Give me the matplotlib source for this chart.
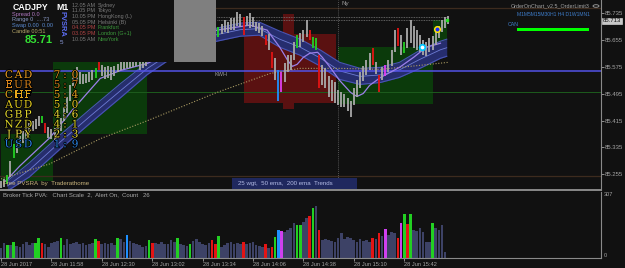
#%%
import numpy as np
import matplotlib
matplotlib.use('Agg')
import matplotlib.pyplot as plt
import matplotlib.patheffects as pe
from matplotlib.patches import Rectangle, Circle

plt.rcParams['font.family'] = ['Liberation Sans', 'DejaVu Sans']

#%% Dados - CADJPY M1, 28 Jun 2017 (x = minutos desde 11:26)
# candles a cada 2 min, antes do painel de informação
min_a = np.arange(0, 94, 2)
hi_a = [85.235, 85.241, 85.253, 85.295, 85.346, 85.355, 85.370, 85.385, 85.397, 85.409,
        85.415, 85.421, 85.430, 85.430, 85.409, 85.397, 85.391, 85.394, 85.403, 85.424,
        85.457, 85.487, 85.520, 85.565, 85.574, 85.559, 85.553, 85.553, 85.559, 85.565,
        85.571, 85.589, 85.580, 85.574, 85.577, 85.574, 85.577, 85.583, 85.589, 85.589,
        85.589, 85.595, 85.595, 85.595, 85.589, 85.595, 85.601]
lo_a = [85.214, 85.217, 85.226, 85.247, 85.304, 85.319, 85.334, 85.349, 85.361, 85.373,
        85.385, 85.391, 85.400, 85.409, 85.379, 85.364, 85.361, 85.358, 85.367, 85.385,
        85.415, 85.439, 85.475, 85.517, 85.532, 85.523, 85.523, 85.526, 85.529, 85.535,
        85.541, 85.565, 85.547, 85.538, 85.541, 85.535, 85.547, 85.559, 85.565, 85.568,
        85.571, 85.571, 85.574, 85.577, 85.565, 85.571, 85.577]

# candles depois do painel
min_b = np.arange(138, 286, 2)
hi_b = [85.694, 85.703, 85.715, 85.709, 85.721, 85.721, 85.739, 85.733, 85.724, 85.727,
        85.736, 85.724, 85.709, 85.706, 85.697, 85.670, 85.673, 85.619, 85.601, 85.565,
        85.559, 85.586, 85.610, 85.610, 85.649, 85.670, 85.676, 85.685, 85.715, 85.685,
        85.664, 85.661, 85.610, 85.580, 85.571, 85.547, 85.535, 85.529, 85.505, 85.499,
        85.493, 85.484, 85.475, 85.511, 85.535, 85.559, 85.577, 85.595, 85.616, 85.631,
        85.589, 85.550, 85.574, 85.580, 85.595, 85.625, 85.685, 85.691, 85.670, 85.649,
        85.691, 85.715, 85.697, 85.685, 85.670, 85.655, 85.649, 85.661, 85.667, 85.685,
        85.697, 85.715, 85.724, 85.727]
lo_b = [85.664, 85.673, 85.679, 85.676, 85.685, 85.685, 85.697, 85.694, 85.670, 85.697,
        85.691, 85.694, 85.682, 85.676, 85.667, 85.640, 85.625, 85.571, 85.535, 85.475,
        85.499, 85.529, 85.559, 85.565, 85.595, 85.631, 85.634, 85.649, 85.664, 85.655,
        85.631, 85.625, 85.511, 85.520, 85.511, 85.487, 85.475, 85.469, 85.463, 85.457,
        85.457, 85.445, 85.427, 85.463, 85.487, 85.511, 85.532, 85.550, 85.565, 85.580,
        85.553, 85.499, 85.535, 85.547, 85.559, 85.577, 85.619, 85.637, 85.610, 85.616,
        85.631, 85.646, 85.631, 85.625, 85.619, 85.610, 85.607, 85.619, 85.625, 85.640,
        85.661, 85.679, 85.691, 85.703]

# candles PVSRA coloridos (minuto: tipo)
pvsra_a = {4: 'g', 8: 'g', 26: 'g', 28: 'r', 60: 'g', 62: 'r'}
pvsra_b = {138: 'g', 154: 'r', 168: 'r', 172: 'r', 176: 'b', 178: 'm', 188: 'g', 196: 'r',
           198: 'g', 200: 'g', 202: 'r', 236: 'r', 240: 'r', 244: 'm', 252: 'r', 256: 'g'}

# canal das médias (25 wgt / 50 ema)
band_min = [4, 18, 37, 57, 76, 93, 110, 126, 137, 152, 164, 177, 190, 203, 215, 228, 241, 253, 266, 279, 283]
band_top = [85.235, 85.289, 85.370, 85.451, 85.526, 85.589, 85.640, 85.673, 85.691, 85.706, 85.709,
            85.682, 85.658, 85.625, 85.589, 85.571, 85.574, 85.589, 85.625, 85.652, 85.658]
band_bot = [85.205, 85.247, 85.328, 85.409, 85.484, 85.553, 85.607, 85.640, 85.652, 85.667, 85.670,
            85.634, 85.610, 85.577, 85.538, 85.523, 85.529, 85.544, 85.571, 85.601, 85.607]

# média rápida (roxa)
ema_min = [3, 12, 31, 45, 63, 76, 93, 110, 126, 137, 158, 169, 177, 182, 185, 188, 192, 196, 201, 204,
           209, 215, 222, 226, 230, 234, 241, 247, 253, 262, 270, 279]
ema_val = [85.235, 85.280, 85.364, 85.445, 85.541, 85.565, 85.586, 85.625, 85.667, 85.685, 85.700,
           85.685, 85.634, 85.595, 85.577, 85.583, 85.604, 85.616, 85.619, 85.604, 85.574, 85.535,
           85.499, 85.487, 85.496, 85.520, 85.544, 85.559, 85.574, 85.604, 85.634, 85.646]

# 200 ema (pontilhada)
slow_min = [0, 31, 63, 93, 137, 171, 190, 215, 241, 266, 284]
slow_val = [85.241, 85.286, 85.361, 85.415, 85.499, 85.556, 85.571, 85.571, 85.568, 85.580, 85.589]

# volume por tick
vol_min = np.arange(0, 284, 2)
vol = [47, 74, 63, 63, 79, 58, 53, 68, 79, 63, 74, 75, 95, 75, 70, 53, 72, 79, 84, 95,
       63, 90, 70, 75, 79, 70, 72, 63, 70, 72, 90, 84, 70, 72, 66, 72, 63, 95, 90, 79,
       111, 84, 72, 66, 63, 53, 58, 87, 75, 72, 70, 79, 70, 66, 87, 79, 95, 70, 63, 58,
       70, 84, 90, 79, 70, 63, 72, 87, 70, 107, 53, 63, 72, 79, 70, 75, 66, 79, 70, 72,
       79, 63, 58, 53, 70, 47, 53, 103, 136, 131, 127, 136, 144, 168, 160, 160, 176, 192, 204, 241,
       252, 136, 87, 90, 87, 84, 79, 95, 120, 90, 102, 95, 87, 79, 90, 84, 87, 79, 99, 90,
       120, 107, 140, 111, 127, 120, 95, 168, 213, 163, 213, 136, 133, 144, 127, 79, 79, 168, 144, 136,
       160, 29]
vol_kind = {4: 'g', 8: 'g', 22: 'g', 24: 'g', 26: 'r', 38: 'g', 60: 'g', 62: 'r', 74: 'g', 80: 'b',
            94: 'g', 96: 'r', 112: 'g', 120: 'g', 134: 'r', 136: 'r', 138: 'g', 154: 'r', 168: 'r',
            172: 'r', 174: 'g', 176: 'b', 178: 'm', 188: 'g', 190: 'g', 196: 'r', 198: 'g', 202: 'r',
            236: 'r', 240: 'r', 244: 'm', 252: 'r', 254: 'm', 256: 'g', 258: 'r', 260: 'g', 274: 'g'}

price_ticks = [85.255, 85.335, 85.415, 85.495, 85.575, 85.655, 85.735]
last_price = 85.713
time_ticks = [0, 32, 64, 96, 128, 160, 192, 224, 256]
time_labels = ['28 Jun 2017', '28 Jun 11:58', '28 Jun 12:30', '28 Jun 13:02', '28 Jun 13:34',
               '28 Jun 14:06', '28 Jun 14:38', '28 Jun 15:10', '28 Jun 15:42']

# zonas (min_ini, min_fim, preço_baixo, preço_alto)
red_zones = [(154, 213, 85.469, 85.673), (179, 186, 85.451, 85.733)]
green_zones = [(33, 93, 85.376, 85.589), (0, 33, 85.235, 85.376),
               (214, 274, 85.466, 85.634), (274, 283, 85.640, 85.715)]
kwh_level = 85.563
green_level = 85.499
day_high = 85.751
day_low = 85.250
order_levels = [85.724, 85.715]

strength = [('CAD', '7:0'), ('EUR', '5:7'), ('CHF', '5:4'), ('AUD', '5:0'),
            ('GBP', '4:6'), ('NZD', '4:1'), ('JPY', '2:3'), ('USD', '1:9')]
strength_col = ['#f0a020', '#d8841c', '#e8a81c', '#e8d020', '#e8dc30', '#dcd428', '#f0e040', '#2a86e6']

sessions = [('12.05 AM', 'Sydney'), ('11.05 PM', 'Tokyo'), ('10.05 PM', 'HongKong (L)'),
            ('05.05 PM', 'Helsinki (B)'), ('04.05 PM', 'Frankfurt'), ('03.05 PM', 'London (G+1)'),
            ('10.05 AM', 'NewYork')]

#%% Figura
W, H = 625, 268
BG = '#111111'
AXC = '#8a8a8a'
TXT = '#a4a4a4'
KIND = {'n': '#a9a9a9', 'g': '#22d022', 'r': '#e41414', 'b': '#1e90ff', 'm': '#e040f0'}
VKIND = {'n': '#3d4266', 'g': '#22d022', 'r': '#e41414', 'b': '#1e90ff', 'm': '#d040f0'}

fig = plt.figure(figsize=(6.25, 2.68), dpi=100, facecolor=BG)
ax = fig.add_axes([0, 1 - 190 / H, 601 / W, 190 / H], facecolor=BG)
sub = fig.add_axes([0, 1 - 258 / H, 601 / W, 66 / H], facecolor=BG)

xlim = (-0.64, 380.95)


def ptext(x, y, s, **kw):
    kw.setdefault('va', 'center')
    kw.setdefault('ha', 'left')
    kw.setdefault('zorder', 6)
    return fig.text(x / W, 1 - y / H, s, **kw)


def prect(x, y, w, h, **kw):
    kw.setdefault('zorder', 5)
    fig.add_artist(Rectangle((x / W, 1 - (y + h) / H), w / W, h / H,
                             transform=fig.transFigure, linewidth=0, **kw))


#%% painel principal
for x0, x1, y0, y1 in green_zones:
    ax.add_patch(Rectangle((x0, y0), x1 - x0, y1 - y0, color='#0b3a0b', lw=0, zorder=0.5))
for x0, x1, y0, y1 in red_zones:
    ax.add_patch(Rectangle((x0, y0), x1 - x0, y1 - y0, color='#5a1111', lw=0, zorder=0.5))

ax.axhline(day_high, color='#3d2b1e', lw=0.9, zorder=0.8)
ax.axhline(day_low, color='#3d2b1e', lw=0.9, zorder=0.8)
ax.axhline(green_level, color='#1d5c1d', lw=0.7, zorder=0.8)
ax.axvline(214, color='#6a6a6a', lw=0.6, ls=(0, (1, 1.5)), zorder=0.8)
ax.hlines(order_levels, 137, 284, colors='#7a7a7a', lw=0.6, linestyles=(0, (1, 1)), zorder=0.8)

ax.fill_between(band_min, band_bot, band_top, color='#262d6e', lw=0, zorder=1)
ax.plot(band_min, band_top, color='#4854b4', lw=0.8, zorder=1.1)
ax.plot(band_min, band_bot, color='#4854b4', lw=0.8, zorder=1.1)
ax.plot(band_min, (np.array(band_top) + np.array(band_bot)) / 2, color='#6e7cd4', lw=0.6, zorder=1.1)

ax.axhline(kwh_level, color='#5252e6', lw=1.1, zorder=1.2)
ax.plot(slow_min, slow_val, color='#a89a62', lw=0.8, ls=(0, (1, 1.5)), zorder=1.3)
ax.plot(ema_min, ema_val, color='#9c80ea', lw=0.9, zorder=1.4)

for mins, hi, lo, kinds in [(min_a, hi_a, lo_a, pvsra_a), (min_b, hi_b, lo_b, pvsra_b)]:
    cols = [KIND[kinds.get(int(m), 'n')] for m in mins]
    ax.vlines(mins, lo, hi, colors=cols, lw=1.3, zorder=2)

ax.plot(267, 85.634, 'o', ms=4, mfc='white', mec='#00c8ff', mew=1.3, zorder=3)
ax.plot(277, 85.688, 'o', ms=4, mfc='#1a2cff', mec='#ffe600', mew=1.1, zorder=3)
ax.plot(283, 85.715, 's', ms=1.5, color='#22e022', zorder=3)

ax.set_xlim(*xlim)
ax.set_ylim(85.208, 85.775)
ax.set_xticks([])
ax.yaxis.tick_right()
ax.set_yticks(price_ticks)
ax.set_yticklabels([f'{v:.3f}' for v in price_ticks])
ax.tick_params(axis='y', colors=TXT, labelsize=4.3, length=2, width=0.6, pad=1)
for s in ['left', 'top']:
    ax.spines[s].set_visible(False)
ax.spines['right'].set_color(AXC)
ax.spines['bottom'].set_color(AXC)
ax.spines['bottom'].set_linewidth(1.4)
ax.text(1.003, last_price, f'{last_price:.3f}', transform=ax.get_yaxis_transform(),
        fontsize=4.3, color='#111111', va='center', ha='left', clip_on=False,
        bbox=dict(boxstyle='square,pad=0.12', fc='#c8c8c8', ec='#e8e8e8', lw=0.4))

#%% sub janela de volume
vcols = [VKIND[vol_kind.get(int(m), 'n')] for m in vol_min]
sub.bar(vol_min, vol, width=1.7, color=vcols, linewidth=0)
sub.set_xlim(*xlim)
sub.set_ylim(0, 320)
sub.set_yticks([])
sub.set_xticks(time_ticks)
sub.set_xticklabels(time_labels)
for lab in sub.get_xticklabels():
    lab.set_ha('left')
sub.tick_params(axis='x', colors=TXT, labelsize=4.1, length=2, width=0.6, pad=1)
for s in ['left', 'top']:
    sub.spines[s].set_visible(False)
sub.spines['right'].set_color(AXC)
sub.spines['bottom'].set_color(AXC)
sub.text(1.005, 307, '307', transform=sub.get_yaxis_transform(), fontsize=4.1, color=TXT,
         va='center', ha='left')
sub.text(1.005, 0, '0', transform=sub.get_yaxis_transform(), fontsize=4.1, color=TXT,
         va='bottom', ha='left')

#%% painel de informação (canto superior esquerdo)
prect(0, 0, 174, 62, fc=BG)
prect(0, 61.5, 174, 0.8, fc='#3c3c3c')
prect(174, 0, 42, 62, fc='#7f7f7f')

ptext(13, 7, 'CADJPY', color='white', fontsize=6.3, weight='bold')
ptext(56, 7, 'M1', color='white', fontsize=6.3, weight='bold')
ptext(12, 14.5, 'Spread 0.0', color='#b37ac4', fontsize=4.1)
ptext(12, 20, 'Range 0  ....73', color='#8a9ac4', fontsize=4.1)
ptext(12, 25.5, 'Swap 0.00  0.00', color='#5a8ad0', fontsize=4.1)
ptext(12, 31, 'Candle 00:51', color='#b8a86a', fontsize=4.1)
ptext(25, 40, '85.71', color='#33e033', fontsize=8, weight='bold')
ptext(62, 24, 'PVSRA', color='#5b6cf0', fontsize=5.4, weight='bold', rotation=270, ha='center')
ptext(61, 43, '5', color='#8fa0e0', fontsize=4.5, ha='center')

for i, (t, name) in enumerate(sessions):
    y = 5.3 + 5.67 * i
    tcol = '#b04444' if i in (4, 5) else '#7a7a7a'
    ncol = '#3c9c3c' if i >= 4 else '#7a7a7a'
    ptext(72, y, t, color=tcol, fontsize=3.9)
    ptext(97.5, y, name, color=ncol, fontsize=3.9)

# força das moedas
stroke = [pe.withStroke(linewidth=1.2, foreground='#000000')]
for i, ((cur, score), col) in enumerate(zip(strength, strength_col)):
    y = 75 + 9.9 * i
    for ch, x in zip(cur, [9, 18.5, 28]):
        ptext(x, y, ch, color=col, fontsize=7.6, family='DejaVu Serif', ha='center',
              path_effects=stroke)
    for ch, x in zip(score, [57, 65, 75]):
        ptext(x, y, ch, color=col, fontsize=7.6, family='DejaVu Serif', ha='center',
              path_effects=stroke)

#%% outros textos
ptext(215, 74, 'KWH', color='#9a9a9a', fontsize=4)
ptext(341, 4, 'Ny', color='#9a9a9a', fontsize=4.5)
ptext(511, 6, 'OrderOnChart_v2.5_OrderLimit3', color=TXT, fontsize=3.9)
fig.add_artist(Circle((596 / W, 1 - 6 / H), 3 / W, transform=fig.transFigure, fc='none',
                      ec=TXT, lw=0.6, zorder=6))
ptext(517, 15, 'M1M5M15M30H1 H4 D1W1MN1', color='#3d7cc9', fontsize=3.6)
ptext(508, 24, 'CAN', color='#3d7cc9', fontsize=3.8)
prect(517, 28, 72, 3, fc='#00ff00')

ptext(3, 184, 'Free PVSRA  by  Traderathome', color='#c9b47c', fontsize=4.4)
prect(232, 178, 125, 11, fc='#1f285e')
ptext(238, 184, '25 wgt,  50 ema,  200 ema  Trends', color='#b4bce6', fontsize=4.4)
ptext(3, 195, 'Broker Tick PVA:   Chart Scale  2,  Alert On,  Count   26', color='#a8a8a8', fontsize=4.3)

fig.savefig('out.png', dpi=100, facecolor=BG)
